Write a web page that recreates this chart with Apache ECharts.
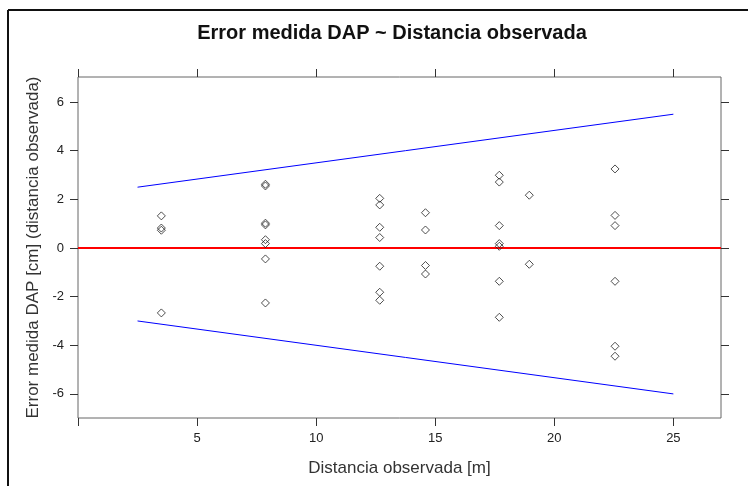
<!DOCTYPE html>
<html>
<head>
<meta charset="utf-8">
<script src="https://cdn.jsdelivr.net/npm/echarts@6/dist/echarts.min.js"></script>
<style>
html,body{margin:0;padding:0;background:#fff;}
#chart{width:748px;height:486px;}
</style>
</head>
<body>
<div id="chart"></div>
<script>
// Observed distance [m] for each measurement
const distances = [
  3.5, 3.5, 3.5, 3.5,
  7.87, 7.87, 7.87, 7.87, 7.87, 7.87, 7.87, 7.87,
  12.67, 12.67, 12.67, 12.67, 12.67, 12.67, 12.67,
  14.59, 14.59, 14.59, 14.59,
  17.69, 17.69, 17.69, 17.69, 17.69, 17.69, 17.69,
  18.95, 18.95,
  22.55, 22.55, 22.55, 22.55, 22.55, 22.55
];
// DAP measurement error [cm]
const errors = [
  1.32, 0.82, 0.73, -2.67,
  2.62, 2.55, 1.02, 0.95, 0.34, 0.18, -0.45, -2.26,
  2.04, 1.77, 0.85, 0.43, -0.75, -1.82, -2.15,
  1.45, 0.74, -0.72, -1.07,
  2.99, 2.71, 0.92, 0.18, 0.07, -1.37, -2.85,
  2.17, -0.67,
  3.25, 1.34, 0.92, -1.37, -4.04, -4.45
];
// Tolerance band limits
const bandX = [2.5, 25];
const upperBand = [2.5, 5.5];
const lowerBand = [-3, -6];
const zeroX = [0, 27];
const zeroY = [0, 0];
// Tick labels
const xTickLabels = [5, 10, 15, 20, 25];
const xTicks = [0, 5, 10, 15, 20, 25];
const yTicks = [-6, -4, -2, 0, 2, 4, 6];

const pts = distances.map((d, i) => [d, errors[i]]);
const zip = (a, b) => a.map((v, i) => [v, b[i]]);

const FONT = '"Liberation Sans", Arial, sans-serif';
const hiddenLine = {show: false, onZero: false};
const chart = echarts.init(document.getElementById('chart'), null, {renderer: 'canvas'});
chart.setOption({
  animation: false,
  backgroundColor: '#fff',
  title: {
    text: 'Error medida DAP ~ Distancia observada',
    left: 387, top: 18, textAlign: 'center',
    textStyle: {fontFamily: FONT, fontSize: 20, fontWeight: 'bold', color: '#111'}
  },
  grid: {left: 78, right: 27, top: 77, bottom: 68, show: true, borderColor: '#666', borderWidth: 1, backgroundColor: 'transparent'},
  xAxis: [{
    type: 'value', min: 0, max: 27, position: 'bottom',
    name: 'Distancia observada [m]', nameLocation: 'middle', nameGap: 42,
    nameTextStyle: {fontFamily: FONT, fontSize: 17, color: '#333'},
    axisLine: hiddenLine, splitLine: {show: false},
    axisTick: {show: true, length: 8, customValues: xTicks, lineStyle: {color: '#333'}},
    axisLabel: {customValues: xTickLabels, fontFamily: FONT, fontSize: 13, color: '#222', margin: 14}
  }, {
    type: 'value', min: 0, max: 27, position: 'top',
    axisLine: hiddenLine, splitLine: {show: false},
    axisTick: {show: true, length: 8, customValues: xTicks, lineStyle: {color: '#333'}},
    axisLabel: {show: false}
  }],
  yAxis: [{
    type: 'value', min: -6.99, max: 7.03, position: 'left',
    name: 'Error medida DAP [cm] (distancia observada)', nameLocation: 'middle', nameGap: 34,
    nameTextStyle: {fontFamily: FONT, fontSize: 17, color: '#333'},
    axisLine: hiddenLine, splitLine: {show: false},
    axisTick: {show: true, length: 8, customValues: yTicks, lineStyle: {color: '#333'}},
    axisLabel: {customValues: yTicks, fontFamily: FONT, fontSize: 13, color: '#222', margin: 14}
  }, {
    type: 'value', min: -6.99, max: 7.03, position: 'right',
    axisLine: hiddenLine, splitLine: {show: false},
    axisTick: {show: true, length: 8, customValues: yTicks, lineStyle: {color: '#333'}},
    axisLabel: {show: false}
  }],
  graphic: [
    {type: 'line', shape: {x1: 8, y1: 10, x2: 748, y2: 10}, style: {stroke: '#111', lineWidth: 2}},
    {type: 'line', shape: {x1: 8, y1: 10, x2: 8, y2: 486}, style: {stroke: '#111', lineWidth: 2}}
  ],
  series: [
    {type: 'line', data: zip(zeroX, zeroY), symbol: 'none', lineStyle: {color: '#ff0000', width: 2}, z: 3},
    {type: 'line', data: zip(bandX, upperBand), symbol: 'none', lineStyle: {color: '#0000ff', width: 1}, z: 3},
    {type: 'line', data: zip(bandX, lowerBand), symbol: 'none', lineStyle: {color: '#0000ff', width: 1}, z: 3},
    {type: 'scatter', data: pts, symbol: 'diamond', symbolSize: [8, 8],
     itemStyle: {color: 'rgba(0,0,0,0)', borderColor: '#222', borderWidth: 1}, z: 4}
  ]
});
</script>
</body>
</html>
